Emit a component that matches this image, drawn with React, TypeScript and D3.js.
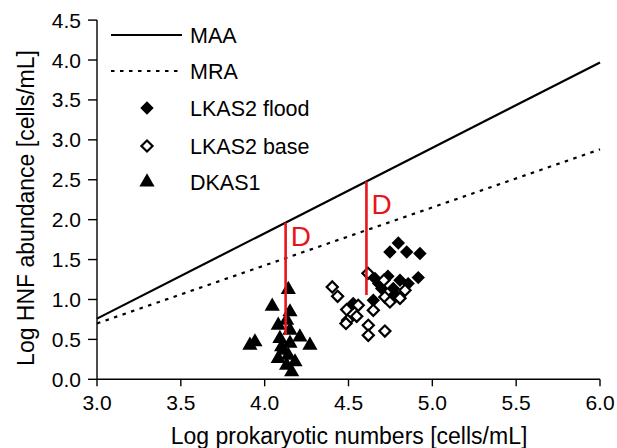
import React from "react";
import * as d3 from "d3";

const xTicks = [3.0, 3.5, 4.0, 4.5, 5.0, 5.5, 6.0];
const yTicks = [0.0, 0.5, 1.0, 1.5, 2.0, 2.5, 3.0, 3.5, 4.0, 4.5];

const maaLine: [number, number][] = [[3, 0.76], [6, 3.97]];
const mraLine: [number, number][] = [[3, 0.70], [6, 2.88]];

const lkas2Flood: [number, number][] = [
  [4.797, 1.708], [4.747, 1.595], [4.847, 1.595], [4.926, 1.575], [4.658, 1.262],
  [4.807, 1.241], [4.916, 1.274], [4.698, 1.137], [4.767, 1.137], [4.856, 1.199],
  [4.528, 0.949], [4.648, 0.99], [4.777, 1.065], [4.735, 1.29], [4.68, 1.2],
];

const lkas2Base: [number, number][] = [
  [4.403, 1.157], [4.435, 1.04], [4.489, 0.873], [4.558, 0.927], [4.495, 0.739],
  [4.549, 0.789], [4.648, 0.865], [4.618, 0.677], [4.618, 0.551], [4.717, 0.605],
  [4.616, 1.328], [4.717, 1.031], [4.807, 1.015], [4.837, 1.115], [4.747, 0.969],
  [4.485, 0.70], [4.711, 1.24],
];

const dkas1: [number, number][] = [
  [4.141, 1.124], [4.045, 0.915], [4.151, 0.844], [4.081, 0.677], [4.131, 0.739],
  [4.21, 0.53], [4.27, 0.426], [3.912, 0.426], [3.942, 0.468], [4.091, 0.51],
  [4.111, 0.363], [4.081, 0.259], [4.141, 0.301], [4.181, 0.217], [4.131, 0.175],
  [4.161, 0.092], [4.151, 0.614], [4.101, 0.405], [4.151, 0.45],
];

// D segments: x, bottom y (top is on MAA line)
const dSegments = [
  { x: 4.125, y0: 0.555, labelY: 1.67 },
  { x: 4.607, y0: 1.056, labelY: 2.07 },
];

const legendItems = ["MAA", "MRA", "LKAS2 flood", "LKAS2 base", "DKAS1"];

const FONT = "Arial, 'Liberation Sans', Helvetica, sans-serif";
const RED = "#e8141c";

export default function App() {
  const W = 617, H = 448;
  const x = d3.scaleLinear().domain([3, 6]).range([97, 600]);
  const y = d3.scaleLinear().domain([0, 4.5]).range([379.3, 20.1]);
  const line = d3.line<[number, number]>().x(d => x(d[0])).y(d => y(d[1]));
  const maaAt = d3.scaleLinear().domain([maaLine[0][0], maaLine[1][0]]).range([maaLine[0][1], maaLine[1][1]]);

  const diamond = d3.symbol(d3.symbolSquare, 90)()!;
  const diamondOpen = d3.symbol(d3.symbolSquare, 62)()!;
  const tri = d3.symbol(d3.symbolTriangle, 100)()!;

  const legendY = [35, 71, 108, 146, 182];

  return (
    <svg width={W} height={H} style={{ position: "absolute", left: 0, top: 0, background: "#fff" }} fontFamily={FONT}>
      <rect width={W} height={H} fill="#fff" />
      {/* axes */}
      <line x1={x(3)} x2={x(6)} y1={y(0)} y2={y(0)} stroke="#000" strokeWidth={1.4} />
      <line x1={x(3)} x2={x(3)} y1={y(0)} y2={y(4.5)} stroke="#000" strokeWidth={1.4} />
      {xTicks.map(t => (
        <g key={"x" + t}>
          <line x1={x(t)} x2={x(t)} y1={y(0)} y2={y(0) + 7} stroke="#000" strokeWidth={1.4} />
          <text x={x(t)} y={410} textAnchor="middle" fontSize={21} fill="#000">{t.toFixed(1)}</text>
        </g>
      ))}
      {yTicks.map(t => (
        <g key={"y" + t}>
          <line x1={x(3) - 9} x2={x(3)} y1={y(t)} y2={y(t)} stroke="#000" strokeWidth={1.4} />
          <text x={81} y={y(t) + 7.5} textAnchor="end" fontSize={21} fill="#000">{t.toFixed(1)}</text>
        </g>
      ))}
      <text x={349} y={444} textAnchor="middle" fontSize={23} fill="#000">Log prokaryotic numbers [cells/mL]</text>
      <text transform={`translate(34,208) rotate(-90)`} textAnchor="middle" fontSize={23} fill="#000">Log HNF abundance [cells/mL]</text>

      {/* regression lines */}
      <path d={line(maaLine)!} fill="none" stroke="#000" strokeWidth={2.2} />
      <path d={line(mraLine)!} fill="none" stroke="#000" strokeWidth={2.2} strokeDasharray="3.5,5.5" />

      {/* points */}
      {dkas1.map((d, i) => (
        <path key={"t" + i} d={tri} transform={`translate(${x(d[0])},${y(d[1])})`} fill="#000" />
      ))}
      {lkas2Flood.map((d, i) => (
        <path key={"f" + i} d={diamond} transform={`translate(${x(d[0])},${y(d[1])}) rotate(45)`} fill="#000" />
      ))}
      {lkas2Base.map((d, i) => (
        <path key={"b" + i} d={diamondOpen} transform={`translate(${x(d[0])},${y(d[1])}) rotate(45)`} fill="#fff" stroke="#000" strokeWidth={2.2} />
      ))}

      {/* D segments */}
      {dSegments.map((s, i) => (
        <g key={"d" + i}>
          <line x1={x(s.x)} x2={x(s.x)} y1={y(maaAt(s.x))} y2={y(s.y0)} stroke={RED} strokeWidth={2.6} />
          <text x={x(s.x) + 5} y={y(s.labelY)} fontSize={28} fill={RED}>D</text>
        </g>
      ))}

      {/* legend */}
      <line x1={111} x2={182} y1={legendY[0]} y2={legendY[0]} stroke="#000" strokeWidth={2.2} />
      <line x1={111} x2={182} y1={legendY[1]} y2={legendY[1]} stroke="#000" strokeWidth={2.2} strokeDasharray="3.5,5.5" />
      <path d={diamond} transform={`translate(147,${legendY[2]}) rotate(45)`} fill="#000" />
      <path d={diamondOpen} transform={`translate(147,${legendY[3]}) rotate(45)`} fill="#fff" stroke="#000" strokeWidth={2.2} />
      <path d={tri} transform={`translate(147,${legendY[4]})`} fill="#000" />
      {legendItems.map((l, i) => (
        <text key={l} x={190} y={legendY[i] + 7.5} fontSize={21.5} fill="#000">{l}</text>
      ))}
    </svg>
  );
}
